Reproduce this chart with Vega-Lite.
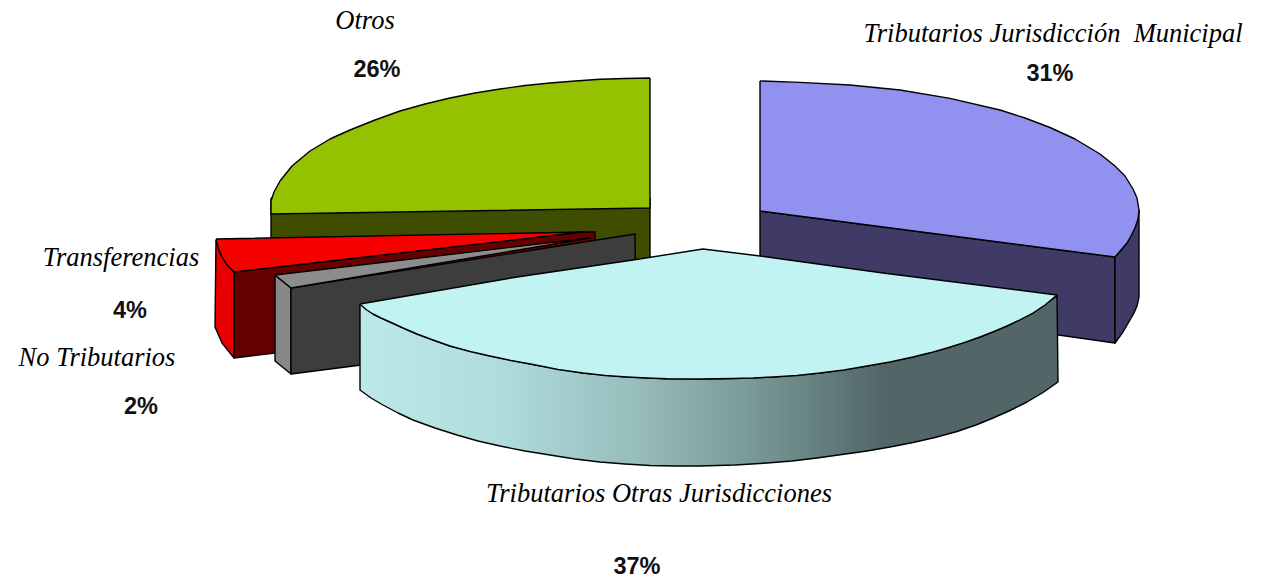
{"$schema":"https://vega.github.io/schema/vega-lite/v6.json","width":1276,"height":580,"padding":0,"autosize":{"type":"fit","contains":"padding"},"background":"white","view":{"stroke":null},
"datasets":{
"back":[
{"part":"Otros lado","i":1,"x":271,"y":198},{"part":"Otros lado","i":2,"x":650,"y":198},{"part":"Otros lado","i":3,"x":650,"y":262},{"part":"Otros lado","i":4,"x":271,"y":262},{"part":"Otros lado","i":5,"x":271,"y":198},
{"part":"Otros","i":1,"x":650,"y":78},{"part":"Otros","i":2,"x":625,"y":78.5},{"part":"Otros","i":3,"x":600,"y":79.2},{"part":"Otros","i":4,"x":575,"y":81},{"part":"Otros","i":5,"x":550,"y":83},{"part":"Otros","i":6,"x":525,"y":85.5},{"part":"Otros","i":7,"x":500,"y":89},{"part":"Otros","i":8,"x":475,"y":93},{"part":"Otros","i":9,"x":450,"y":98},{"part":"Otros","i":10,"x":425,"y":104},{"part":"Otros","i":11,"x":400,"y":111},{"part":"Otros","i":12,"x":375,"y":120},{"part":"Otros","i":13,"x":350,"y":130},{"part":"Otros","i":14,"x":330,"y":139},{"part":"Otros","i":15,"x":310,"y":151},{"part":"Otros","i":16,"x":292,"y":166},{"part":"Otros","i":17,"x":280,"y":181},{"part":"Otros","i":18,"x":274,"y":192},{"part":"Otros","i":19,"x":271,"y":201},{"part":"Otros","i":20,"x":271,"y":214},{"part":"Otros","i":21,"x":650,"y":208},{"part":"Otros","i":22,"x":650,"y":78},
{"part":"Municipal lado","i":1,"x":760,"y":211},{"part":"Municipal lado","i":2,"x":1115,"y":257},{"part":"Municipal lado","i":3,"x":1115,"y":343},{"part":"Municipal lado","i":4,"x":760,"y":293},{"part":"Municipal lado","i":5,"x":760,"y":211},
{"part":"Municipal borde","i":1,"x":1139,"y":210},{"part":"Municipal borde","i":2,"x":1135,"y":228},{"part":"Municipal borde","i":3,"x":1127,"y":243},{"part":"Municipal borde","i":4,"x":1115,"y":257},{"part":"Municipal borde","i":5,"x":1115,"y":343},{"part":"Municipal borde","i":6,"x":1123,"y":332},{"part":"Municipal borde","i":7,"x":1130,"y":320},{"part":"Municipal borde","i":8,"x":1134,"y":313},{"part":"Municipal borde","i":9,"x":1137,"y":306},{"part":"Municipal borde","i":10,"x":1139,"y":297},{"part":"Municipal borde","i":11,"x":1139,"y":210},
{"part":"Municipal","i":1,"x":760,"y":81},{"part":"Municipal","i":2,"x":800,"y":82.4},{"part":"Municipal","i":3,"x":850,"y":85},{"part":"Municipal","i":4,"x":900,"y":90},{"part":"Municipal","i":5,"x":950,"y":98.4},{"part":"Municipal","i":6,"x":1000,"y":110},{"part":"Municipal","i":7,"x":1025,"y":118},{"part":"Municipal","i":8,"x":1050,"y":127.5},{"part":"Municipal","i":9,"x":1075,"y":139},{"part":"Municipal","i":10,"x":1100,"y":154},{"part":"Municipal","i":11,"x":1115,"y":166},{"part":"Municipal","i":12,"x":1125,"y":176},{"part":"Municipal","i":13,"x":1133,"y":189},{"part":"Municipal","i":14,"x":1137,"y":198},{"part":"Municipal","i":15,"x":1139,"y":210},{"part":"Municipal","i":16,"x":1138,"y":219},{"part":"Municipal","i":17,"x":1135,"y":228},{"part":"Municipal","i":18,"x":1131,"y":236},{"part":"Municipal","i":19,"x":1127,"y":243},{"part":"Municipal","i":20,"x":1121,"y":250},{"part":"Municipal","i":21,"x":1115,"y":257},{"part":"Municipal","i":22,"x":760,"y":211},{"part":"Municipal","i":23,"x":760,"y":81},
{"part":"Transferencias lado","i":1,"x":234,"y":272},{"part":"Transferencias lado","i":2,"x":581,"y":232},{"part":"Transferencias lado","i":3,"x":595,"y":232},{"part":"Transferencias lado","i":4,"x":595,"y":315},{"part":"Transferencias lado","i":5,"x":234,"y":358},{"part":"Transferencias lado","i":6,"x":234,"y":272},
{"part":"Transferencias borde","i":1,"x":216,"y":240},{"part":"Transferencias borde","i":2,"x":222,"y":257},{"part":"Transferencias borde","i":3,"x":234,"y":272},{"part":"Transferencias borde","i":4,"x":234,"y":358},{"part":"Transferencias borde","i":5,"x":222,"y":343},{"part":"Transferencias borde","i":6,"x":215,"y":327},{"part":"Transferencias borde","i":7,"x":216,"y":240},
{"part":"Transferencias","i":1,"x":216,"y":239},{"part":"Transferencias","i":2,"x":583,"y":232},{"part":"Transferencias","i":3,"x":234,"y":272},{"part":"Transferencias","i":4,"x":227,"y":265},{"part":"Transferencias","i":5,"x":222,"y":257},{"part":"Transferencias","i":6,"x":218,"y":248},{"part":"Transferencias","i":7,"x":216,"y":239},
{"part":"No Tributarios borde","i":1,"x":275,"y":275},{"part":"No Tributarios borde","i":2,"x":291,"y":288},{"part":"No Tributarios borde","i":3,"x":291,"y":374},{"part":"No Tributarios borde","i":4,"x":275,"y":361},{"part":"No Tributarios borde","i":5,"x":275,"y":275},
{"part":"No Tributarios lado","i":1,"x":291,"y":288},{"part":"No Tributarios lado","i":2,"x":635,"y":234},{"part":"No Tributarios lado","i":3,"x":636,"y":330},{"part":"No Tributarios lado","i":4,"x":291,"y":374},{"part":"No Tributarios lado","i":5,"x":291,"y":288},
{"part":"No Tributarios","i":1,"x":275,"y":275},{"part":"No Tributarios","i":2,"x":590,"y":238},{"part":"No Tributarios","i":3,"x":291,"y":288},{"part":"No Tributarios","i":4,"x":275,"y":275}
],
"frente":[
{"i":1,"x":360,"y":304},{"i":2,"x":373,"y":314},{"i":3,"x":390,"y":322},{"i":4,"x":417,"y":334},{"i":5,"x":450,"y":346},{"i":6,"x":490,"y":356},{"i":7,"x":533,"y":364.5},{"i":8,"x":583,"y":373},{"i":9,"x":627,"y":377},{"i":10,"x":667,"y":378.7},{"i":11,"x":700,"y":379},{"i":12,"x":733,"y":378.5},{"i":13,"x":773,"y":377},{"i":14,"x":820,"y":373},{"i":15,"x":867,"y":366},{"i":16,"x":913,"y":357},{"i":17,"x":947,"y":348},{"i":18,"x":980,"y":337},{"i":19,"x":1007,"y":326},{"i":20,"x":1033,"y":313},{"i":21,"x":1057,"y":296},{"i":22,"x":1058,"y":382},{"i":23,"x":1043,"y":392.5},{"i":24,"x":1027,"y":402},{"i":25,"x":1010,"y":410.5},{"i":26,"x":993,"y":418},{"i":27,"x":976,"y":425},{"i":28,"x":957,"y":431.5},{"i":29,"x":935,"y":437.5},{"i":30,"x":913,"y":442.5},{"i":31,"x":890,"y":447},{"i":32,"x":867,"y":451},{"i":33,"x":842,"y":454.5},{"i":34,"x":817,"y":458},{"i":35,"x":792,"y":461},{"i":36,"x":767,"y":463},{"i":37,"x":735,"y":465},{"i":38,"x":700,"y":466},{"i":39,"x":675,"y":466},{"i":40,"x":650,"y":465.5},{"i":41,"x":625,"y":464},{"i":42,"x":600,"y":462},{"i":43,"x":575,"y":459},{"i":44,"x":550,"y":455},{"i":45,"x":525,"y":451},{"i":46,"x":500,"y":446},{"i":47,"x":478,"y":441},{"i":48,"x":457,"y":435},{"i":49,"x":435,"y":428},{"i":50,"x":413,"y":420},{"i":51,"x":398,"y":413},{"i":52,"x":383,"y":405},{"i":53,"x":371,"y":398},{"i":54,"x":360,"y":390},{"i":55,"x":360,"y":304}
],
"cima":[
{"i":1,"x":360,"y":304},{"i":2,"x":517,"y":277},{"i":3,"x":633,"y":260},{"i":4,"x":703,"y":249},{"i":5,"x":760,"y":256},{"i":6,"x":883,"y":273},{"i":7,"x":1057,"y":295},{"i":8,"x":1045,"y":305},{"i":9,"x":1033,"y":313},{"i":10,"x":1020,"y":319.8},{"i":11,"x":1007,"y":326},{"i":12,"x":994,"y":331.5},{"i":13,"x":980,"y":337},{"i":14,"x":964,"y":342.7},{"i":15,"x":947,"y":348},{"i":16,"x":930,"y":352.8},{"i":17,"x":913,"y":357},{"i":18,"x":890,"y":362},{"i":19,"x":867,"y":366},{"i":20,"x":844,"y":370},{"i":21,"x":820,"y":373},{"i":22,"x":797,"y":375.5},{"i":23,"x":773,"y":377},{"i":24,"x":753,"y":378},{"i":25,"x":733,"y":378.5},{"i":26,"x":700,"y":379},{"i":27,"x":667,"y":378.7},{"i":28,"x":647,"y":378},{"i":29,"x":627,"y":377},{"i":30,"x":605,"y":375.5},{"i":31,"x":583,"y":373},{"i":32,"x":558,"y":369.5},{"i":33,"x":533,"y":364.5},{"i":34,"x":511,"y":360.5},{"i":35,"x":490,"y":356},{"i":36,"x":470,"y":351.5},{"i":37,"x":450,"y":346},{"i":38,"x":433,"y":340},{"i":39,"x":417,"y":334},{"i":40,"x":403,"y":328},{"i":41,"x":390,"y":322},{"i":42,"x":381,"y":318},{"i":43,"x":373,"y":314},{"i":44,"x":366,"y":309.5},{"i":45,"x":360,"y":304}
],
"nombres":[
{"t":"Otros","x":365,"y":21},{"t":"Tributarios Jurisdicción\u00a0\u00a0Municipal","x":1053,"y":34},{"t":"Transferencias","x":121,"y":258},{"t":"No Tributarios","x":97,"y":358},{"t":"Tributarios Otras Jurisdicciones","x":659,"y":494}
],
"porcentajes":[
{"t":"26%","x":377,"y":70},{"t":"31%","x":1050,"y":74},{"t":"4%","x":130,"y":311},{"t":"2%","x":141,"y":407},{"t":"37%","x":637,"y":567}
]},
"encoding":{"x":{"field":"x","type":"quantitative","axis":null,"scale":{"domain":[0,1276],"nice":false,"zero":false}},"y":{"field":"y","type":"quantitative","axis":null,"scale":{"domain":[580,0],"nice":false,"zero":false}}},
"layer":[
{"data":{"name":"back"},"mark":{"type":"line","stroke":"#000000","strokeWidth":1.4,"strokeJoin":"round"},"encoding":{"order":{"field":"i","type":"quantitative"},"detail":{"field":"part"},"fill":{"field":"part","type":"nominal","legend":null,"scale":{"domain":["Otros lado","Otros","Municipal lado","Municipal borde","Municipal","Transferencias lado","Transferencias borde","Transferencias","No Tributarios borde","No Tributarios lado","No Tributarios"],"range":["#3f4d00","#94c100","#3f3b66","#3f3b66","#9191f0","#660000","#e80000","#f70000","#888888","#3d3d3d","#8c8c8c"]}}}},
{"data":{"name":"frente"},"mark":{"type":"line","stroke":"#000000","strokeWidth":1.4,"strokeJoin":"round","fill":{"gradient":"linear","x1":0,"y1":0,"x2":1,"y2":0,"stops":[{"offset":0,"color":"#bde8e8"},{"offset":0.2,"color":"#b0dcdc"},{"offset":0.4,"color":"#96bcbb"},{"offset":0.55,"color":"#7a9c9a"},{"offset":0.75,"color":"#526667"},{"offset":1,"color":"#526667"}]}},"encoding":{"order":{"field":"i","type":"quantitative"}}},
{"data":{"name":"cima"},"mark":{"type":"line","stroke":"#000000","strokeWidth":1.4,"strokeJoin":"round","fill":"#c0f3f2"},"encoding":{"order":{"field":"i","type":"quantitative"}}},
{"data":{"name":"nombres"},"mark":{"type":"text","font":"Liberation Serif","fontStyle":"italic","fontSize":26.5,"align":"center","baseline":"middle","color":"#000000"},"encoding":{"text":{"field":"t"}}},
{"data":{"name":"porcentajes"},"mark":{"type":"text","font":"Liberation Sans","fontWeight":"bold","fontSize":23.5,"align":"center","baseline":"middle","color":"#111111"},"encoding":{"text":{"field":"t"}}}
]}
